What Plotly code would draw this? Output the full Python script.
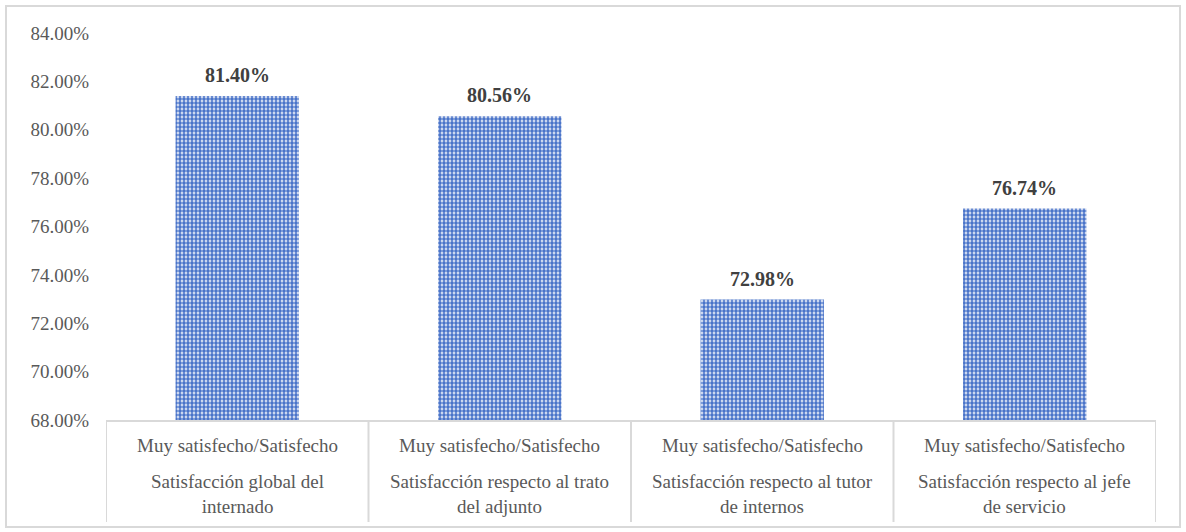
import plotly.graph_objects as go

groups = [
    "Satisfacción global del<br>internado",
    "Satisfacción respecto al trato<br>del adjunto",
    "Satisfacción respecto al tutor<br>de internos",
    "Satisfacción respecto al jefe<br>de servicio",
]
answers = ["Muy satisfecho/Satisfecho"] * 4
values = [81.40, 80.56, 72.98, 76.74]
y_ticks = [68, 70, 72, 74, 76, 78, 80, 82, 84]

FONT = "Liberation Serif, Times New Roman, serif"
GRAY = "#595959"
LINE = "#d9d9d9"

fig = go.Figure()
fig.add_trace(go.Bar(
    x=list(range(len(values))),
    y=values,
    marker=dict(
        color="white",
        line=dict(width=0),
        pattern=dict(shape=".", fgcolor="#4a74c9", bgcolor="white",
                     size=4, solidity=0.7, fillmode="replace"),
    ),
    width=0.47,
    hoverinfo="skip",
))

for i, v in enumerate(values):
    fig.add_annotation(x=i, y=v, xref="x", yref="y", text=f"<b>{v:.2f}%</b>",
                       showarrow=False, yshift=21,
                       font=dict(family=FONT, size=20, color="#404040"))

PLOT_H = 387
py = lambda p: (420 - p) / PLOT_H
for i, (g, a) in enumerate(zip(groups, answers)):
    fig.add_annotation(x=i, y=py(445), xref="x", yref="paper", text=a,
                       showarrow=False, yanchor="middle",
                       font=dict(family=FONT, size=19, color=GRAY))
    fig.add_annotation(x=i, y=py(469), xref="x", yref="paper", text=g,
                       showarrow=False, yanchor="top", align="center",
                       font=dict(family=FONT, size=19, color=GRAY))

for k in range(len(values) + 1):
    fig.add_shape(type="line", xref="x", yref="paper",
                  x0=k - 0.5, x1=k - 0.5, y0=py(420), y1=py(522),
                  line=dict(color=LINE, width=2))

px = lambda p: (p - 106) / 1050
fig.add_shape(type="rect", xref="paper", yref="paper",
              x0=px(6), x1=px(1180), y0=py(527), y1=py(6),
              line=dict(color=LINE, width=2), layer="below")

fig.update_layout(
    width=1186, height=532,
    margin=dict(l=106, r=30, t=33, b=112),
    paper_bgcolor="white", plot_bgcolor="white",
    showlegend=False,
    font=dict(family=FONT, size=19, color=GRAY),
    xaxis=dict(
        range=[-0.5, 3.5], showticklabels=False,
        showline=True, linecolor=LINE, linewidth=2,
        showgrid=False, zeroline=False, ticks="",
    ),
    yaxis=dict(
        range=[68, 84], tickvals=y_ticks,
        ticktext=[f"{t:.2f}%" for t in y_ticks],
        showgrid=False, zeroline=False, showline=False,
        ticklabelstandoff=16,
        tickfont=dict(family=FONT, size=19, color=GRAY),
    ),
)

fig.write_html("out.html")
